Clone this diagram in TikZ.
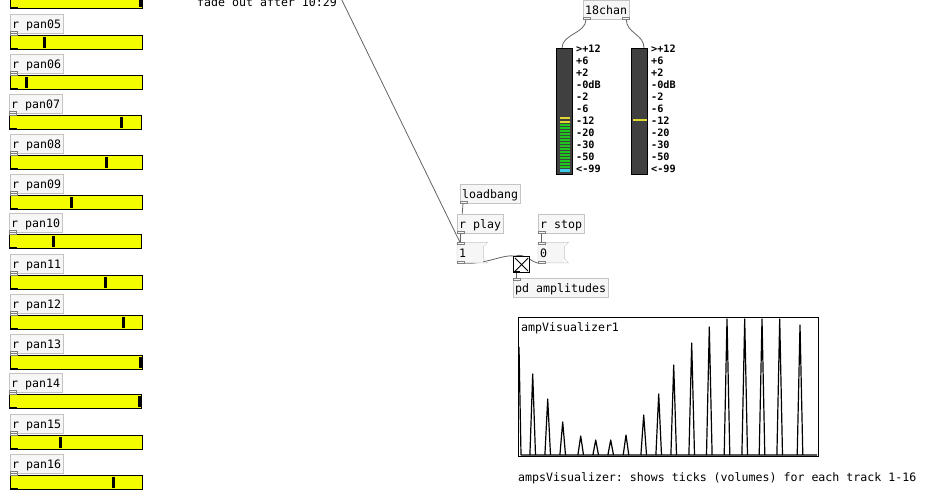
\documentclass[tikz,border=0pt]{standalone}
\usepackage{fontspec}
\newfontfamily\pdmono{DejaVu Sans Mono}
\usetikzlibrary{positioning,backgrounds}
\definecolor{boxline}{RGB}{196,196,196}
\definecolor{boxfill}{RGB}{246,246,246}
\definecolor{wire}{RGB}{100,100,100}
\definecolor{hslfill}{RGB}{244,252,0}
\definecolor{vubody}{RGB}{64,64,64}
\definecolor{ledgreen}{RGB}{30,200,30}
\definecolor{ledyellow}{RGB}{225,215,50}
\definecolor{ledcyan}{RGB}{60,200,230}

\begin{document}
\frenchspacing
\begin{tikzpicture}[x=1pt, y=-1pt,
  pdfont/.style = {font=\pdmono\fontsize{11.6}{13}\selectfont},
  obj/.style = {pdfont, draw=boxline, fill=boxfill, anchor=north west, inner xsep=2pt, inner ysep=0pt, minimum height=19pt, text height=11pt, text depth=1pt},
  msg/.style = {obj, draw=none, text width=22pt, minimum height=20pt},
  msgline/.style = {draw=boxline},
  hsl/.style = {draw=black, line width=1.2pt, fill=hslfill, anchor=north west, minimum width=132pt, minimum height=14pt, inner sep=0pt},
  knob/.style = {fill=black},
  iolet/.style = {draw=gray, fill=boxfill, line width=0.6pt},
  wire/.style = {draw=wire, line width=0.8pt},
  vu/.style = {draw=black, line width=1pt, fill=vubody, anchor=north west, minimum width=16pt, minimum height=126pt, inner sep=0pt},
  vulabel/.style = {font=\pdmono\bfseries\fontsize{10.2}{11}\selectfont, anchor=west, inner sep=0pt},
  comment/.style = {pdfont, anchor=base west, inner sep=0pt},
  plot/.style = {line width=1.2pt, line join=round}
]
\useasboundingbox (0,0) rectangle (931,490);

% pan sliders
\node[hsl] (hsl04) at (10,-6) {};
\fill[knob] (138.5,-4) rectangle ++(3,11);
\fill (hsl04.south west) rectangle ++(8,-2);
\foreach \n/\y/\dx/\m in {05/35/0/44, 06/75/0/26, 07/115/-1/121, 08/155/0/106, 09/195/0/71, 10/234/-1/53, 11/275/0/105, 12/315/0/123, 13/355/0/140, 14/394/-1/139, 15/435/0/60, 16/475/0/113}{
  \node[obj] (rpan\n) at ({10+\dx},{\y-21}) {r pan\n};
  \node[hsl] (hsl\n) at ({10+\dx},\y) {};
  \draw[wire] ([xshift=3pt]rpan\n.south west) -- ([xshift=3pt]hsl\n.north west);
  \draw[iolet] (rpan\n.south west) rectangle ++(7,-2);
  \draw[iolet] (hsl\n.north west) rectangle ++(7,-2);
  \fill (hsl\n.south west) rectangle ++(8,-2);
  \fill[knob] ({\m-1.5},{\y+2}) rectangle ++(3,11);
}

\node[comment] (fade) at (197,6) {fade out after 10:29};
\coordinate (fadeup) at (336,-12);

% meters
\node[obj] (chan) at (583,0) {18chan};
\draw[iolet] (chan.south west) rectangle ++(7,-2);
\draw[iolet] (chan.south east) rectangle ++(-7,-2);
\node[vu] (vuL) at (556,48) {};
\node[vu] (vuR) at (631,48) {};
\foreach \yy in {124,127,...,166}
  \fill[ledgreen] (560,\yy) rectangle ++(10,2);
\fill[ledyellow] (560,117) rectangle (570,119.3);
\fill[ledyellow] (560,120.5) rectangle (570,122.8);
\fill[ledcyan] (560,169) rectangle (570,172);
\fill[ledyellow] (633,119) rectangle (647,121);
\foreach \t [count=\i from 0] in {>+12,+6,+2,-0dB,-2,-6,-12,-20,-30,-50,<-99}{
  \node[vulabel] (vuLt\i) at (576,{48.5+12*\i}) {\t};
  \node[vulabel] (vuRt\i) at (651,{48.5+12*\i}) {\t};
}

% play / stop
\node[obj] (lb) at (460,184) {loadbang};
\node[obj] (rplay) at (457,214) {r play};
\node[obj] (rstop) at (538,214) {r stop};
\node[msg, below right=9pt and 0pt of rplay.south west] (msg1) {1};
\node[msg, below right=9pt and 0pt of rstop.south west] (msg0) {0};
\draw[msgline] (msg1.north west) -- ([xshift=4pt]msg1.north east) -- ([yshift=-4pt]msg1.north east) -- ([yshift=4pt]msg1.south east) -- ([xshift=4pt]msg1.south east) -- (msg1.south west) -- cycle;
\draw[msgline] (msg0.north west) -- ([xshift=4pt]msg0.north east) -- ([yshift=-4pt]msg0.north east) -- ([yshift=4pt]msg0.south east) -- ([xshift=4pt]msg0.south east) -- (msg0.south west) -- cycle;
\node[draw=black, line width=1.2pt, fill=white, minimum size=16pt, inner sep=0pt, anchor=north west] (tgl) at (513,256) {};
\draw[line width=0.8pt] ([shift={(2pt,-2pt)}]tgl.north west) -- ([shift={(-2pt,2pt)}]tgl.south east)
  ([shift={(-2pt,-2pt)}]tgl.north east) -- ([shift={(2pt,2pt)}]tgl.south west);
\node[obj, below right=5pt and 0pt of tgl.south west] (amps) {pd amplitudes};
\foreach \o in {lb,rplay,rstop,msg1,msg0}
  \draw[iolet] (\o.south west) rectangle ++(7,-2);
\foreach \o in {msg1,msg0,amps}
  \draw[iolet] (\o.north west) rectangle ++(7,2);
\fill (tgl.south west) rectangle ++(7,-2);

\begin{pgfonlayer}{background}
\fill[white] (0,0) rectangle (931,490);
\draw[wire] (fadeup) -- ([xshift=3pt]msg1.north west);
\draw[wire] ([xshift=3pt]chan.south west) .. controls +(0,14) and +(0,-14) .. ([xshift=6pt]vuL.north west);
\draw[wire] ([xshift=-3pt]chan.south east) .. controls +(0,14) and +(0,-14) .. ([xshift=-4pt]vuR.north east);
\draw[wire] ([xshift=3pt]lb.south west) -- ([xshift=3pt]msg1.north west);
\draw[wire] ([xshift=3pt]rplay.south west) -- ([xshift=3pt]msg1.north west);
\draw[wire] ([xshift=3pt]rstop.south west) -- ([xshift=3pt]msg0.north west);
\draw[wire] ([xshift=3pt]msg1.south west) .. controls +(25,3) and +(-15,-2) .. ([xshift=3pt]tgl.north west);
\draw[wire] ([xshift=3pt]msg0.south west) .. controls +(-6,3) and +(8,-4) .. ([xshift=3pt]tgl.north west);
\draw[wire] ([xshift=3pt]tgl.south west) -- ([xshift=3pt]amps.north west);
\end{pgfonlayer}

% amplitude graph
\node[draw=black, line width=1pt, anchor=north west, minimum width=300pt, minimum height=139pt, inner sep=0pt] (graph) at (518,317) {};
\node[comment] (graphname) at (521,331) {ampVisualizer1};
\foreach \px/\py in {532.7/374, 547.7/399, 562.7/422, 580.7/436, 595.7/440, 610.7/440, 626/435, 643.7/415, 658.7/394, 673.7/365, 691.7/343, 709.3/327, 727/319, 744.7/319, 762/319, 779.7/319, 800/325}
  \draw[plot] ({\px-2.8},455) -- (\px,\py) -- ({\px+2.8},455);
\draw[plot] (519,347) -- (521,455) -- (817,455);
\node[comment] (ampsnote) at (518,481) {ampsVisualizer: shows ticks (volumes) for each track 1-16};
\end{tikzpicture}
\end{document}
